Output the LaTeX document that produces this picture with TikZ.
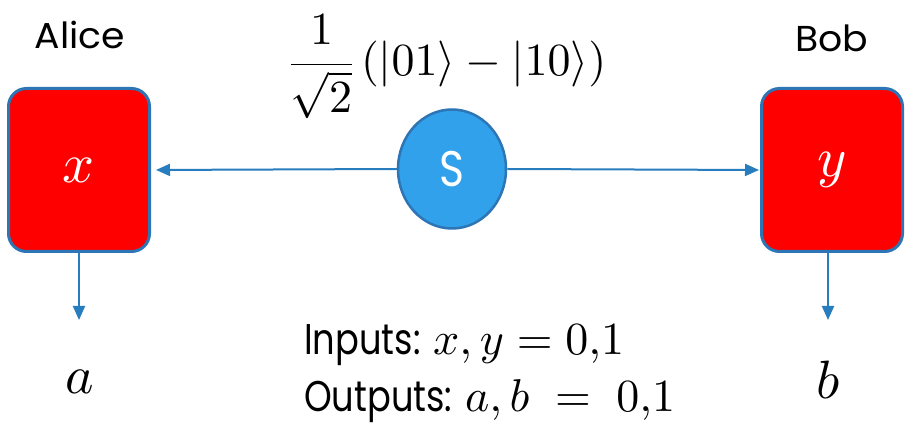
\documentclass[tikz,border=0pt]{standalone}
\usepackage[no-math]{fontspec}
\DeclareFontShape{OML}{cmm}{m}{it}{<->cmmi10}{}
\DeclareFontShape{OMS}{cmsy}{m}{n}{<->cmsy10}{}
\DeclareFontShape{OMX}{cmex}{m}{n}{<->cmex10}{}
\DeclareFontShape{OT1}{cmr}{m}{n}{<->cmr10}{}
\newfontfamily\gothic[FakeStretch=1.05]{Poppins}
\newfontfamily\twcen[FakeStretch=0.82]{Poppins}
\newfontfamily\sgoth[FakeStretch=0.85]{Poppins}
\usetikzlibrary{arrows.meta,shapes.geometric}
\definecolor{bordblue}{RGB}{46,117,182}
\definecolor{arrblue}{RGB}{40,125,190}
\definecolor{circblue}{RGB}{48,161,234}
\begin{document}
\begin{tikzpicture}[x=1pt,y=-1pt]
\useasboundingbox[fill=white] (0,0) rectangle (905,427);
\tikzset{
  party/.style={draw=bordblue, fill=red, line width=3pt, rounded corners=18pt,
    minimum width=141pt, minimum height=163pt, inner sep=0pt, text=white,
    font=\fontsize{56}{64}\selectfont},
  source/.style={ellipse, draw=bordblue, fill=circblue, line width=2.5pt,
    minimum width=108pt, minimum height=119pt, inner sep=0pt, text=white,
    font=\fontsize{50}{56}\sgoth},
  arr/.style={draw=arrblue, line width=2pt, -{Triangle[length=14pt,width=12pt]}},
  lbl/.style={font=\fontsize{36}{40}\gothic, inner sep=0pt},
  mlbl/.style={font=\fontsize{54}{60}\selectfont, inner sep=0pt},
  info/.style={font=\fontsize{43}{50}\twcen, inner sep=0pt, anchor=base west}
}
\node[party] (alice) at (79,170) {$x$};
\node[party] (bob) at (832,170) {$y$};
\node[source] (S) at (452,169) {S};
\node[lbl] (alicel) at (80,35) {Alice};
\node[lbl] (bobl) at (832,38) {Bob};
\node[inner sep=0pt, font=\fontsize{46}{52}\selectfont] (state) at (448,67)
  {$\displaystyle\frac{1}{\sqrt{2}}\,(|01\rangle-|10\rangle)$};
\coordinate (aend) at (79,320);
\coordinate (bend) at (828,320);
\draw[arr, shorten >=5pt] (S.west) -- (alice.east);
\draw[arr, shorten >=1pt] (S.east) -- (bob.west);
\draw[arr] (alice.south) -- (aend);
\draw[arr] (alice.south -| bend) -- (bend);
\node[mlbl] (a) at (80,382) {$a$};
\node[mlbl] (b) at (828,380) {$b$};
\node[info] (inputs) at (304,355) {Inputs: {\fontsize{46}{52}\selectfont$x,y=0{,}1$}};
\node[info] (outputs) at (304,411) {Outputs: {\fontsize{46}{52}\selectfont$a,b\;=\;0{,}1$}};
\end{tikzpicture}
\end{document}
